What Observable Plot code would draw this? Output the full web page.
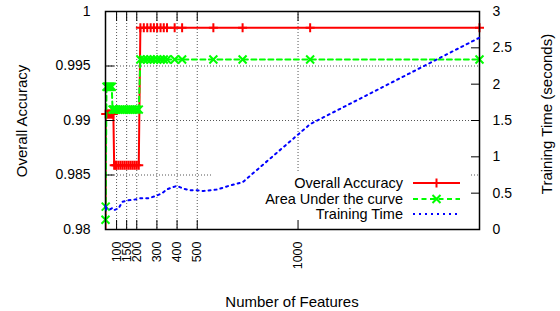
<!DOCTYPE html>
<html><head><meta charset="utf-8">
<script src="https://cdn.jsdelivr.net/npm/d3@7"></script>
<script src="https://cdn.jsdelivr.net/npm/@observablehq/plot@0.6"></script>
<style>
html,body{margin:0;padding:0;background:#fff;}
#chart{position:relative;width:560px;height:311px;}
#chart svg{position:absolute;left:0;top:0;}
</style></head><body><div id="chart"></div>
<script>
// ---- data ----
const features = [45, 46, 50, 55, 60, 65, 70, 76, 80, 84, 88, 95, 100, 110, 120, 130, 140, 150, 160, 170, 180, 190, 200, 210,
                  218, 235, 252, 269, 285, 301, 318, 334, 350, 388, 425, 580, 725, 1060, 1900];
const accuracy = [0.978, 0.9906, 0.9906, 0.9906, 0.9906, 0.9906, 0.9906, 0.9906, 0.9906, 0.9906,
                  0.9859, 0.9859, 0.9859, 0.9859, 0.9859, 0.9859, 0.9859, 0.9859, 0.9859, 0.9859, 0.9859, 0.9859, 0.9859, 0.9859,
                  0.9985, 0.9985, 0.9985, 0.9985, 0.9985, 0.9985, 0.9985, 0.9985, 0.9985, 0.9985, 0.9985, 0.9985, 0.9985, 0.9985, 0.9985];
const auc = [0.9809, 0.9821, 0.9931, 0.9931, 0.9931, 0.9931, 0.9931, 0.9931,
             0.9910, 0.9910, 0.9910, 0.9910, 0.9910, 0.9910, 0.9910, 0.9910, 0.9910, 0.9910, 0.9910, 0.9910, 0.9910, 0.9910, 0.9910, 0.9910,
             0.9956, 0.9956, 0.9956, 0.9956, 0.9956, 0.9956, 0.9956, 0.9956, 0.9956, 0.9956, 0.9956, 0.9956, 0.9956, 0.9956, 0.9956];
const timeFeatures = [45, 47, 50, 60, 70, 80, 90, 110, 128, 153, 186, 219, 258, 293, 326, 348, 376, 400, 433, 467, 500, 531, 567, 600, 656, 725, 1060, 1900];
const timeSeconds  = [0.33, 0.26, 0.30, 0.29, 0.28, 0.30, 0.27, 0.29, 0.38, 0.40, 0.41, 0.43, 0.43, 0.46, 0.50, 0.55, 0.58, 0.60, 0.56, 0.54, 0.54, 0.53, 0.54, 0.55, 0.60, 0.65, 1.45, 2.64];
const xTicks = [100, 150, 200, 300, 400, 500, 1000];
const accTicks = [0.98, 0.985, 0.99, 0.995, 1];
const accGrid = [0.985, 0.99, 0.995];
const timeTicks = [0, 0.5, 1, 1.5, 2, 2.5, 3];
const seriesNames = ["Overall Accuracy", "Area Under the curve", "Training Time"];
const seriesColors = ["#ff0000", "#00ff00", "#0000ff"];
const xLabel = "Number of Features", yLabel = "Overall Accuracy", y2Label = "Training Time (seconds)";

// ---- layout ----
const W = 560, H = 311;
const M = {top: 11, right: 81, bottom: 82, left: 105};
const xDomain = [45, 1900];
const font = "'Liberation Sans', Arial, Helvetica, sans-serif";
const accData = features.map((f, i) => ({f, acc: accuracy[i], auc: auc[i]}));
const timeData = timeFeatures.map((f, i) => ({f, t: timeSeconds[i]}));
const inRange = v => v >= 0.98 && v <= 1;
const gridStyle = {stroke: "#555", strokeOpacity: 1, strokeDasharray: "1,2"};

const plotA = Plot.plot({
  width: W, height: H,
  marginTop: M.top, marginRight: M.right, marginBottom: M.bottom, marginLeft: M.left,
  style: {fontFamily: font, fontSize: "14px", background: "white", color: "black"},
  x: {domain: xDomain}, y: {domain: [0.98, 1]},
  marks: [
    Plot.gridX(xTicks, gridStyle),
    Plot.gridY(accGrid, gridStyle),
    Plot.line(accData, {x: "f", y: "acc", stroke: seriesColors[0], strokeWidth: 2, clip: true}),
    Plot.dot(accData.filter(d => inRange(d.acc)), {x: "f", y: "acc", symbol: "plus", r: 3, stroke: seriesColors[0], strokeWidth: 2}),
    Plot.line(accData, {x: "f", y: "auc", stroke: seriesColors[1], strokeWidth: 2, strokeDasharray: "5,3.5", clip: true}),
    Plot.dot(accData.filter(d => inRange(d.auc)), {x: "f", y: "auc", symbol: "times", r: 3.7, stroke: seriesColors[1], strokeWidth: 2}),
    Plot.frame({stroke: "black", strokeWidth: 1.5}),
    Plot.axisY(accTicks, {tickSize: -9, fill: "none", label: null}),
    Plot.axisY(accTicks, {tickSize: 0, tickPadding: 15, tickFormat: "~g", stroke: "none", label: null}),
    Plot.axisX(xTicks, {anchor: "bottom", tickSize: -9, fill: "none", label: null}),
    Plot.axisX(xTicks, {anchor: "top", tickSize: -9, fill: "none", label: null}),
    Plot.axisX(xTicks, {anchor: "bottom", tickSize: 0, tickPadding: 12, tickRotate: -90, tickFormat: "d", stroke: "none", fontSize: 12.5, label: null})
  ]
});

const plotB = Plot.plot({
  width: W, height: H,
  marginTop: M.top, marginRight: M.right, marginBottom: M.bottom, marginLeft: M.left,
  style: {fontFamily: font, fontSize: "14px", background: "transparent", color: "black"},
  x: {domain: xDomain, axis: null}, y: {domain: [0, 3]},
  marks: [
    Plot.line(timeData, {x: "f", y: "t", stroke: seriesColors[2], strokeWidth: 2, strokeDasharray: "2,4"}),
    Plot.axisY(timeTicks, {anchor: "right", tickSize: -9, fill: "none", label: null}),
    Plot.axisY(timeTicks, {anchor: "right", tickSize: 0, tickPadding: 13, tickFormat: "~g", stroke: "none", label: null})
  ]
});

const chart = document.getElementById("chart");
chart.appendChild(plotA);
chart.appendChild(plotB);

// opaque key background (drawn over the grid, under the data)
const legendBox = {x0: 213, x1: 470, y0: 172, y1: 228};
d3.select(plotA).insert("rect", 'g[aria-label="line"]')
  .attr("x", legendBox.x0).attr("y", legendBox.y0)
  .attr("width", legendBox.x1 - legendBox.x0).attr("height", legendBox.y1 - legendBox.y0)
  .attr("fill", "white");

// axis titles
const svgB = d3.select(plotB);
const titles = svgB.append("g").attr("font-family", font).attr("font-size", 15).attr("fill", "black");
titles.append("text").attr("transform", "translate(21,121) rotate(-90)").attr("text-anchor", "middle").attr("dominant-baseline", "central").text(yLabel);
titles.append("text").attr("transform", "translate(546,114) rotate(-90)").attr("text-anchor", "middle").attr("dominant-baseline", "central").text(y2Label);
titles.append("text").attr("x", 292).attr("y", 301).attr("text-anchor", "middle").attr("dominant-baseline", "central").text(xLabel);

// legend
const rowsY = [183, 199, 214];
const lg = svgB.append("g").attr("font-family", font).attr("font-size", 14.5);
const dashes = [null, "5,3.5", "2,4"];
seriesNames.forEach((name, i) => {
  const y = rowsY[i];
  lg.append("text").attr("x", 403).attr("y", y).attr("text-anchor", "end").attr("dominant-baseline", "central").attr("fill", "black").text(name);
  lg.append("line").attr("x1", 413).attr("x2", 460).attr("y1", y).attr("y2", y)
    .attr("stroke", seriesColors[i]).attr("stroke-width", 2).attr("stroke-dasharray", dashes[i]);
  const cx = 436.5;
  if (i === 0) {
    lg.append("path").attr("d", `M${cx - 4.5},${y}h9M${cx},${y - 4.5}v9`).attr("stroke", seriesColors[i]).attr("stroke-width", 2).attr("fill", "none");
  } else if (i === 1) {
    lg.append("path").attr("d", `M${cx - 4},${y - 4}l8,8M${cx - 4},${y + 4}l8,-8`).attr("stroke", seriesColors[i]).attr("stroke-width", 2).attr("fill", "none");
  }
});
</script></body></html>
